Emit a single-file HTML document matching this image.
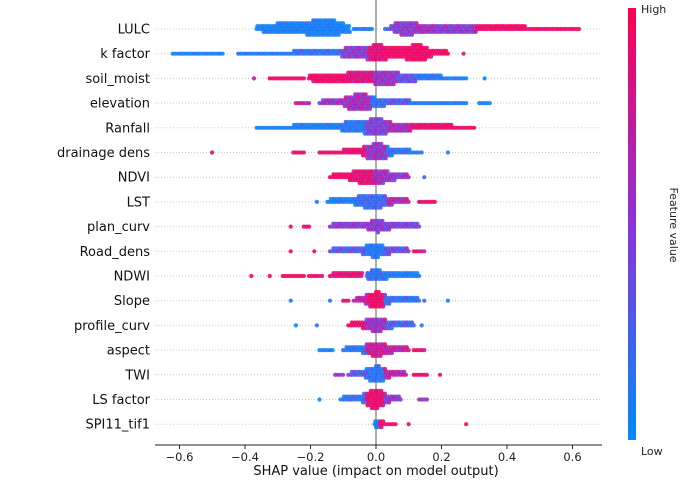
<!DOCTYPE html>
<html><head><meta charset="utf-8">
<style>
body{margin:0;background:#fff;}
svg{display:block;font-family:"DejaVu Sans","Liberation Sans",sans-serif;}
</style></head>
<body>
<svg id="chart" width="685" height="480" viewBox="0 0 685 480" xmlns="http://www.w3.org/2000/svg">
<defs>
<linearGradient id="cb" x1="0" y1="0" x2="0" y2="1">
<stop offset="0" stop-color="#ff0052"/><stop offset="0.5" stop-color="#8c32dc"/><stop offset="1" stop-color="#008bfb"/>
</linearGradient>
</defs>
<g id="rows"></g>
<line x1="376" y1="0" x2="376" y2="445" stroke="#999" stroke-width="1.6"/>
<g id="dots"></g>
<g id="xaxis"></g>
<text x="376" y="475" font-size="13" text-anchor="middle" fill="#111">SHAP value (impact on model output)</text>
<rect x="628" y="8" width="8" height="432" fill="url(#cb)"/>
<text x="641" y="13" font-size="11" fill="#222">High</text>
<text x="641" y="455" font-size="11" fill="#222">Low</text>
<text x="0" y="0" font-size="11" fill="#222" text-anchor="middle" transform="translate(670,225) rotate(90)">Feature value</text>
</svg>
<script>
const features = ["LULC","k factor","soil_moist","elevation","Ranfall","drainage dens","NDVI","LST","plan_curv","Road_dens","NDWI","Slope","profile_curv","aspect","TWI","LS factor","SPI11_tif1"];
const xTicks = [-0.6,-0.4,-0.2,0.0,0.2,0.4,0.6];
const xTickLabels = ["\u22120.6","\u22120.4","\u22120.2","0.0","0.2","0.4","0.6"];
// segments: [shapStart, shapEnd, dotsStacked, featureValue(0 low..1 high)]
const lulc = [[-0.36,-0.30,3,0],[-0.30,-0.20,4,0.02],[-0.20,-0.12,6,0.02],[-0.12,-0.08,4,0],[-0.07,-0.01,1,0.1],[0.03,0.06,1,0.3],[0.06,0.12,5,0.5],[0.12,0.18,3,0.6],[0.18,0.30,3,0.5],[0.30,0.45,2,1],[0.46,0.62,1,1]];
const kfactor = [[-0.62,-0.47,1,0],[-0.42,-0.25,1,0.05],[-0.25,-0.10,2,0.15],[-0.10,-0.02,4,0.5],[-0.02,0.02,6,0.9],[0.02,0.10,4,1],[0.10,0.15,6,1],[0.15,0.22,2,1],[0.27,0.27,1,1]];
const soilMoist = [[-0.37,-0.37,1,1],[-0.32,-0.22,1,1],[-0.20,-0.08,3,1],[-0.08,0.0,4,0.85],[0.0,0.06,5,0.55],[0.06,0.12,3,0.35],[0.12,0.20,2,0.1],[0.20,0.28,1,0.05],[0.33,0.33,1,0]];
const elevation = [[-0.24,-0.20,1,0.7],[-0.17,-0.08,2,0.55],[-0.08,-0.02,6,0.6],[-0.02,0.02,3,0.15],[0.02,0.10,2,0.3],[0.10,0.28,1,0.05],[0.32,0.35,1,0]];
const ranfall = [[-0.36,-0.25,1,0],[-0.25,-0.10,2,0.03],[-0.10,-0.03,4,0.1],[-0.03,0.03,6,0.45],[0.03,0.10,3,0.6],[0.10,0.23,2,0.95],[0.23,0.30,1,1]];
const drainage = [[-0.50,-0.50,1,1],[-0.25,-0.22,1,1],[-0.17,-0.10,1,1],[-0.10,-0.03,2,0.95],[-0.03,0.03,6,0.55],[0.03,0.10,2,0.15],[0.10,0.14,1,0.05],[0.22,0.22,1,0]];
const ndvi = [[-0.14,-0.07,2,1],[-0.07,0.0,5,0.9],[0.0,0.04,5,0.6],[0.04,0.10,2,0.5],[0.15,0.15,1,0.5]];
const lst = [[-0.18,-0.18,1,0],[-0.15,-0.05,2,0.05],[-0.05,0.03,5,0.2],[0.03,0.10,2,0.65],[0.13,0.18,1,1]];
const planCurv = [[-0.26,-0.26,1,1],[-0.22,-0.20,1,1],[-0.14,-0.01,2,0.5],[-0.01,0.02,5,0.5],[0.02,0.13,2,0.45]];
const roadDens = [[-0.26,-0.26,1,1],[-0.19,-0.19,1,1],[-0.14,-0.03,2,0.3],[-0.03,0.02,5,0.08],[0.02,0.10,2,0.35],[0.12,0.15,1,0.9]];
const ndwi = [[-0.38,-0.38,1,1],[-0.32,-0.32,1,1],[-0.28,-0.22,1,1],[-0.20,-0.16,1,1],[-0.14,-0.04,2,0.9],[-0.03,0.02,4,0.15],[0.03,0.13,2,0.05]];
const slope = [[-0.26,-0.26,1,0],[-0.14,-0.14,1,0],[-0.10,-0.08,1,1],[-0.07,-0.02,2,0.75],[-0.02,0.02,6,1],[0.02,0.13,2,0.15],[0.15,0.15,1,0.5],[0.22,0.22,1,0]];
const profileCurv = [[-0.24,-0.24,1,0],[-0.18,-0.18,1,0],[-0.08,-0.03,2,0.95],[-0.03,0.03,5,0.55],[0.03,0.12,2,0.25],[0.14,0.14,1,0]];
const aspect = [[-0.17,-0.13,1,0],[-0.10,-0.03,2,0.1],[-0.03,0.03,5,0.75],[0.03,0.10,2,0.7],[0.12,0.15,1,0.9]];
const twi = [[-0.12,-0.10,1,0.5],[-0.08,-0.02,2,0.3],[-0.02,0.02,6,0.1],[0.02,0.09,2,0.7],[0.12,0.16,1,1],[0.20,0.20,1,1]];
const lsFactor = [[-0.17,-0.17,1,0],[-0.11,-0.03,2,0.15],[-0.03,0.02,7,0.95],[0.02,0.08,2,0.5],[0.13,0.16,1,0.6]];
const spi = [[-0.005,0.005,7,0.05],[0.01,0.06,1,1],[0.10,0.10,1,1],[0.28,0.28,1,1]];
const seriesList = [lulc,kfactor,soilMoist,elevation,ranfall,drainage,ndvi,lst,planCurv,roadDens,ndwi,slope,profileCurv,aspect,twi,lsFactor,spi];

const NS="http://www.w3.org/2000/svg";
const X0=376, XS=327.5;
function xScale(v){return X0+v*XS;}
function yRow(i){return 29+i*24.7;}
function col(c){
  const b=[0,139,251],m=[140,50,220],r=[255,0,82];
  let a,t,z;
  if(c<0.5){a=b;z=m;t=c/0.5;}else{a=m;z=r;t=(c-0.5)/0.5;}
  return `rgb(${Math.round(a[0]+(z[0]-a[0])*t)},${Math.round(a[1]+(z[1]-a[1])*t)},${Math.round(a[2]+(z[2]-a[2])*t)})`;
}
const rowsG=document.getElementById('rows');
const dotsG=document.getElementById('dots');
const axG=document.getElementById('xaxis');
const STEP=0.008;

features.forEach((f,i)=>{
  const y=yRow(i);
  const ln=document.createElementNS(NS,'line');
  
  
  ln.setAttribute('x1',155);ln.setAttribute('x2',600);ln.setAttribute('y1',y);ln.setAttribute('y2',y);
  ln.setAttribute('stroke','#ccc');ln.setAttribute('stroke-dasharray','1,2');
  rowsG.appendChild(ln);
  const t=document.createElementNS(NS,'text');
  
  
  t.setAttribute('x',150);t.setAttribute('y',y+4.5);t.setAttribute('text-anchor','end');
  t.setAttribute('font-size','13');t.setAttribute('fill','#111');
  t.textContent=f;
  rowsG.appendChild(t);
  // build bins
  const N=Math.round(1.3/STEP)+1;
  const cnt=new Array(N).fill(0), cv=new Array(N).fill(0.5);
  seriesList[i].forEach(s=>{
    const a=Math.round((s[0]+0.65)/STEP), b=Math.round((s[1]+0.65)/STEP);
    for(let k=a;k<=b;k++){ if(s[2]>=cnt[k]){cnt[k]=s[2];cv[k]=s[3];} }
  });
  // smooth counts for tapered swarm shape
  const sm=cnt.map((c,k)=>{
    if(c===0) return 0;
    let sum=0,w=0;
    for(let d=-3;d<=3;d++){const kk=k+d; if(kk>=0&&kk<N){const ww=4-Math.abs(d); sum+=cnt[kk]*ww; w+=ww;}}
    return Math.max(1,Math.round(sum/w));
  });
  for(let k=0;k<N;k++){
    if(sm[k]===0) continue;
    const v=-0.65+k*STEP;
    for(let j=0;j<sm[k];j++){
      const off=(j%2===0?1:-1)*Math.ceil(j/2)*2.9;
      const c=document.createElementNS(NS,'circle');
      
      
      c.setAttribute('cx',(xScale(v)+((j%3)-1)*0.8).toFixed(1));
      c.setAttribute('cy',(y+off).toFixed(1));
      c.setAttribute('r',2.1);
      const cval=Math.min(1,Math.max(0,cv[k]+(((k*7+j*3)%5)-2)*0.12));
      c.setAttribute('fill',col(cval));
      c.setAttribute('fill-opacity','0.9');
      dotsG.appendChild(c);
    }
  }
});

const ax=document.createElementNS(NS,'line');


ax.setAttribute('x1',155);ax.setAttribute('x2',602);ax.setAttribute('y1',445);ax.setAttribute('y2',445);
ax.setAttribute('stroke','#222');ax.setAttribute('stroke-width','1');
axG.appendChild(ax);
xTicks.forEach((v,i)=>{
  const x=xScale(v);
  const tk=document.createElementNS(NS,'line');
  
  
  tk.setAttribute('x1',x);tk.setAttribute('x2',x);tk.setAttribute('y1',445);tk.setAttribute('y2',449);
  tk.setAttribute('stroke','#222');
  axG.appendChild(tk);
  const tl=document.createElementNS(NS,'text');
  
  
  tl.setAttribute('x',x);tl.setAttribute('y',461);tl.setAttribute('text-anchor','middle');
  tl.setAttribute('font-size','11.5');tl.setAttribute('fill','#222');
  tl.textContent=xTickLabels[i];
  axG.appendChild(tl);
});
</script>
</body></html>
